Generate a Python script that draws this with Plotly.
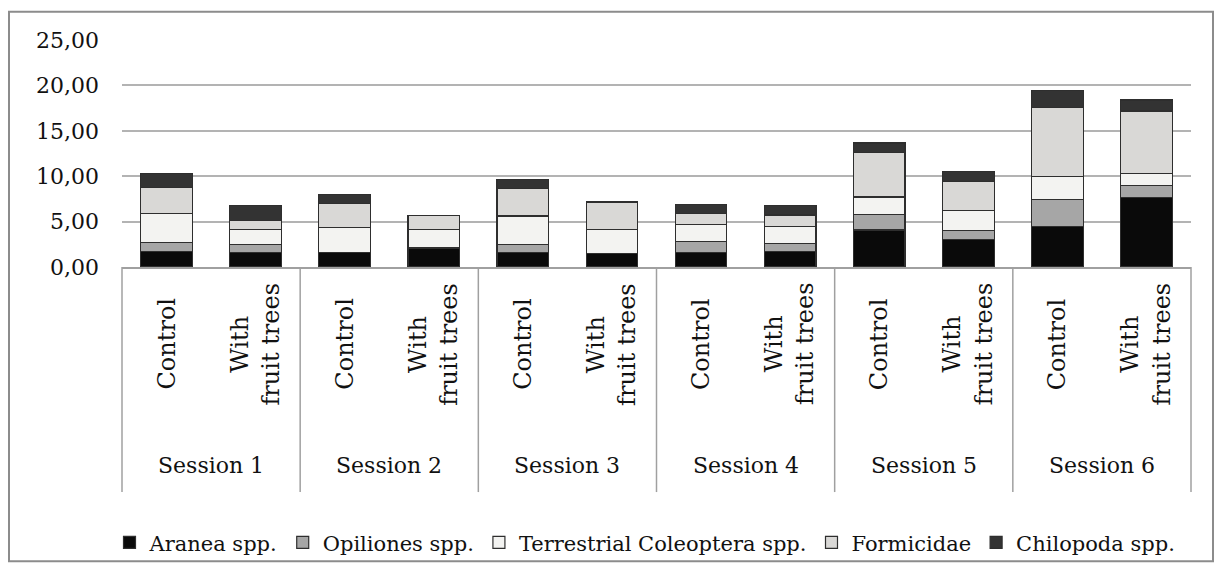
import plotly.graph_objects as go

# Categories: two treatments within each of six sampling sessions
sessions = ["Session 1", "Session 2", "Session 3", "Session 4", "Session 5", "Session 6"]
treatments = ["Control", "With<br>fruit trees"]

# Mean abundance per group (stacked)
aranea = [1.71, 1.56, 1.56, 2.09, 1.60, 1.50, 1.60, 1.71, 4.08, 3.01, 4.46, 7.67]
opiliones = [0.96, 0.93, 0.00, 0.00, 0.89, 0.00, 1.18, 0.92, 1.71, 1.00, 3.00, 1.33]
coleoptera = [3.21, 1.63, 2.75, 2.08, 3.13, 2.59, 1.88, 1.81, 1.92, 2.21, 2.51, 1.29]
formicidae = [2.84, 0.97, 2.67, 1.50, 2.99, 3.07, 1.22, 1.29, 4.92, 3.24, 7.61, 6.89]
chilopoda = [1.60, 1.67, 0.99, 0.00, 1.00, 0.00, 0.99, 1.00, 1.02, 1.03, 1.82, 1.21]

series_names = ["Aranea spp.", "Opiliones spp.", "Terrestrial Coleoptera spp.",
                "Formicidae", "Chilopoda spp."]
series_values = [aranea, opiliones, coleoptera, formicidae, chilopoda]
series_colors = ["#0a0a0a", "#a6a6a6", "#f3f3f1", "#d9d8d6", "#333333"]

y_ticks = [0, 5, 10, 15, 20, 25]

# Page geometry (pixels)
W, H = 1215, 576
L, R, T, B = 122, 1191, 40, 273
FONT = "DejaVu Serif"
INK = "#111111"


def px_x(px):
    return (px - L) / (R - L)


def px_y(py):
    return (B - py) / (B - T)


n = len(sessions) * len(treatments)
xs = list(range(n))

fig = go.Figure()
for name, vals, col in zip(series_names, series_values, series_colors):
    fig.add_trace(go.Bar(
        x=xs, y=vals, name=name, width=0.58,
        marker=dict(color=col, line=dict(color="#2e2e2e", width=1.2)),
    ))

shapes = []
annotations = []

# Group dividers below the axis
for k in range(len(sessions) + 1):
    xp = k / len(sessions)
    shapes.append(dict(type="line", xref="paper", yref="paper",
                       x0=xp, x1=xp, y0=0, y1=px_y(504),
                       line=dict(color="#a0a0a0", width=1.5)))

# Outer frame
shapes.append(dict(type="rect", xref="paper", yref="paper",
                   x0=px_x(9), x1=px_x(1213), y0=px_y(575), y1=px_y(11),
                   line=dict(color="#8c8c8c", width=2), layer="below"))

# Treatment labels (rotated) and session labels
for s, sess in enumerate(sessions):
    for t, trt in enumerate(treatments):
        i = s * len(treatments) + t
        annotations.append(dict(
            x=i, xref="x", y=px_y(352), yref="paper",
            text=trt, textangle=-90, showarrow=False,
            xanchor="center", yanchor="middle", align="center",
            font=dict(family=FONT, size=24, color=INK),
        ))
    annotations.append(dict(
        x=s * len(treatments) + 0.5, xref="x", y=px_y(477), yref="paper",
        text=sess, showarrow=False, xanchor="center", yanchor="middle",
        font=dict(family=FONT, size=22, color=INK),
    ))

fig.update_layout(
    width=W, height=H,
    barmode="stack",
    separators=", ",
    paper_bgcolor="white", plot_bgcolor="white",
    margin=dict(l=L, r=W - R, t=T, b=H - B, pad=0),
    font=dict(family=FONT, size=22, color=INK),
    showlegend=True,
    legend=dict(orientation="h", traceorder="normal",
                x=px_x(645), xanchor="center", y=px_y(556), yanchor="middle",
                font=dict(family=FONT, size=21, color=INK),
                itemwidth=30, bgcolor="rgba(0,0,0,0)"),
    xaxis=dict(range=[-0.5, n - 0.5], showticklabels=False, showgrid=False,
               zeroline=False, showline=True, linecolor="#a0a0a0", linewidth=1.5,
               ticks="", fixedrange=True),
    yaxis=dict(range=[0, 25], tickvals=y_ticks, tickformat=".2f",
               showgrid=True, gridcolor="#b3b3b3", gridwidth=1.5,
               zeroline=False, showline=False, ticks="",
               ticklabelstandoff=22,
               tickfont=dict(family=FONT, size=22, color=INK)),
    shapes=shapes,
    annotations=annotations,
)

fig.write_html("out.html")
